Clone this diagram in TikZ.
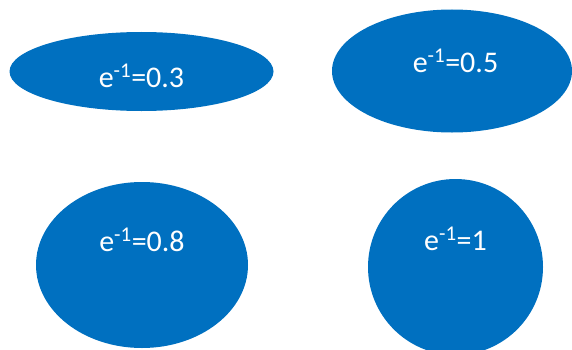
\documentclass[tikz,border=0pt]{standalone}
\usepackage{fontspec}
\setmainfont{Carlito}
\usetikzlibrary{shapes.geometric}
\definecolor{ovalblue}{HTML}{0070C0}

\tikzset{
  oval/.style={ellipse, fill=ovalblue, inner sep=0pt},
  ovaltext/.style={anchor=base, text=white, font=\fontsize{30}{34}\selectfont, inner sep=0pt}
}

\begin{document}
\begin{tikzpicture}[x=1pt,y=1pt]

\useasboundingbox (0,0) rectangle (572,349);

\node[oval, minimum width=264, minimum height=79] (o03) at (141.5,277.5) {};
\node[ovaltext] (t03) at (141.5,262) {e\textsuperscript{-1}=0.3};

\node[oval, minimum width=240, minimum height=123] (o05) at (452,278) {};
\node[ovaltext] (t05) at (455.5,277) {e\textsuperscript{-1}=0.5};

\node[oval, minimum width=212, minimum height=166] (o08) at (142,84) {};
\node[ovaltext] (t08) at (142,98) {e\textsuperscript{-1}=0.8};

\node[oval, minimum width=175, minimum height=176] (o10) at (455.5,82) {};
\node[ovaltext] (t10) at (455.5,99) {e\textsuperscript{-1}=1};

\end{tikzpicture}
\end{document}
